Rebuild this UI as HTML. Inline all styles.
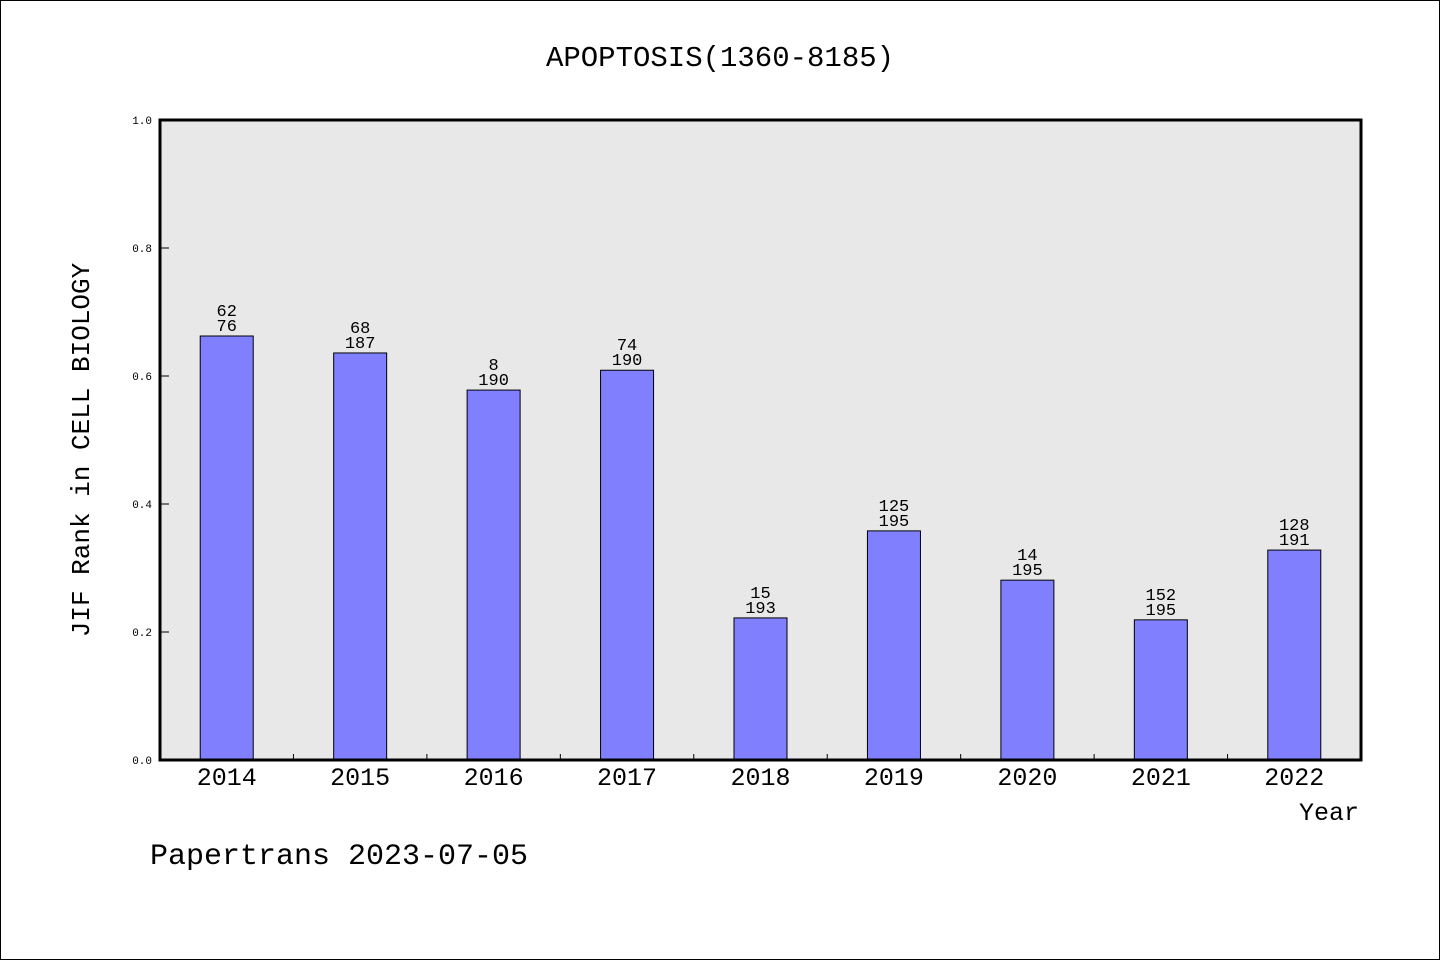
<!DOCTYPE html>
<html><head><meta charset="utf-8"><style>
html,body{margin:0;padding:0;background:#fff}
svg{display:block}
text{font-family:"Liberation Mono","DejaVu Sans Mono",monospace;fill:#000}
</style></head><body>
<svg width="1440" height="960" viewBox="0 0 1440 960">
<rect x="0.5" y="0.5" width="1439" height="959" fill="#fff" stroke="#000" stroke-width="1"/>
<text x="720" y="66" font-size="29" text-anchor="middle">APOPTOSIS(1360-8185)</text>
<rect x="160" y="120" width="1201" height="640" fill="#e8e8e8"/>
<g id="yaxis"></g>
<g id="bars"></g>
<g id="xaxis"></g>
<rect x="160" y="120" width="1201" height="640" fill="none" stroke="#000" stroke-width="3"/>
<text transform="translate(89,450) rotate(-90)" font-size="26" text-anchor="middle">JIF Rank in CELL BIOLOGY</text>
<text x="1359" y="820" font-size="25" text-anchor="end">Year</text>
<text x="150" y="864" font-size="30">Papertrans 2023-07-05</text>
</svg>
<script>
const categories = ["2014","2015","2016","2017","2018","2019","2020","2021","2022"];
const values = [0.6625,0.636,0.578,0.609,0.222,0.358,0.281,0.219,0.328];
const ranks = ["62","68","8","74","15","125","14","152","128"];
const totals = ["76","187","190","190","193","195","195","195","191"];
const yTicks = [0,0.2,0.4,0.6,0.8,1.0];
const yTickLabels = ["0.0","0.2","0.4","0.6","0.8","1.0"];

const NS="http://www.w3.org/2000/svg";
const L=160,R=1361,T=120,B=760;
const y=v=>B-(v-0)/(1-0)*(B-T);
const band=(R-L)/categories.length;
const xc=i=>L+band*(i+0.5);
function mk(tag,attrs,parent,txt){const e=document.createElementNS(NS,tag);for(const k in attrs)e.setAttribute(k,attrs[k]);if(txt!==undefined)e.textContent=txt;parent.appendChild(e);return e;}
const ya=document.getElementById('yaxis'),ba=document.getElementById('bars'),xa=document.getElementById('xaxis');
yTicks.forEach((t,i)=>{
  const ln=mk('line',{x1:L,x2:L+9,y1:y(t),y2:y(t),stroke:'#000','stroke-width':1},ya);
  
  
  const tx=mk('text',{x:152,y:y(t)+4,'font-size':11,'text-anchor':'end','font-family':'Liberation Sans, sans-serif'},ya,yTickLabels[i]);
  
  
});
const bw=53;
categories.forEach((c,i)=>{
  const top=y(values[i]);
  const r=mk('rect',{x:xc(i)-bw/2,y:top,width:bw,height:B-top,fill:'#8080ff',stroke:'#000','stroke-width':1},ba);
  
  
  const t1=mk('text',{x:xc(i),y:top-20,'font-size':17,'text-anchor':'middle','font-family':'DejaVu Sans, sans-serif'},ba,ranks[i]);
  
  
  const t2=mk('text',{x:xc(i),y:top-5,'font-size':17,'text-anchor':'middle','font-family':'DejaVu Sans, sans-serif'},ba,totals[i]);
  
  
  const xl=mk('text',{x:xc(i),y:785,'font-size':25,'text-anchor':'middle'},xa,c);
  
  
  if(i>0){
    const tk=mk('line',{x1:L+band*i,x2:L+band*i,y1:B,y2:B-6,stroke:'#000','stroke-width':1},xa);
    
    
  }
});
</script>
</body></html>
